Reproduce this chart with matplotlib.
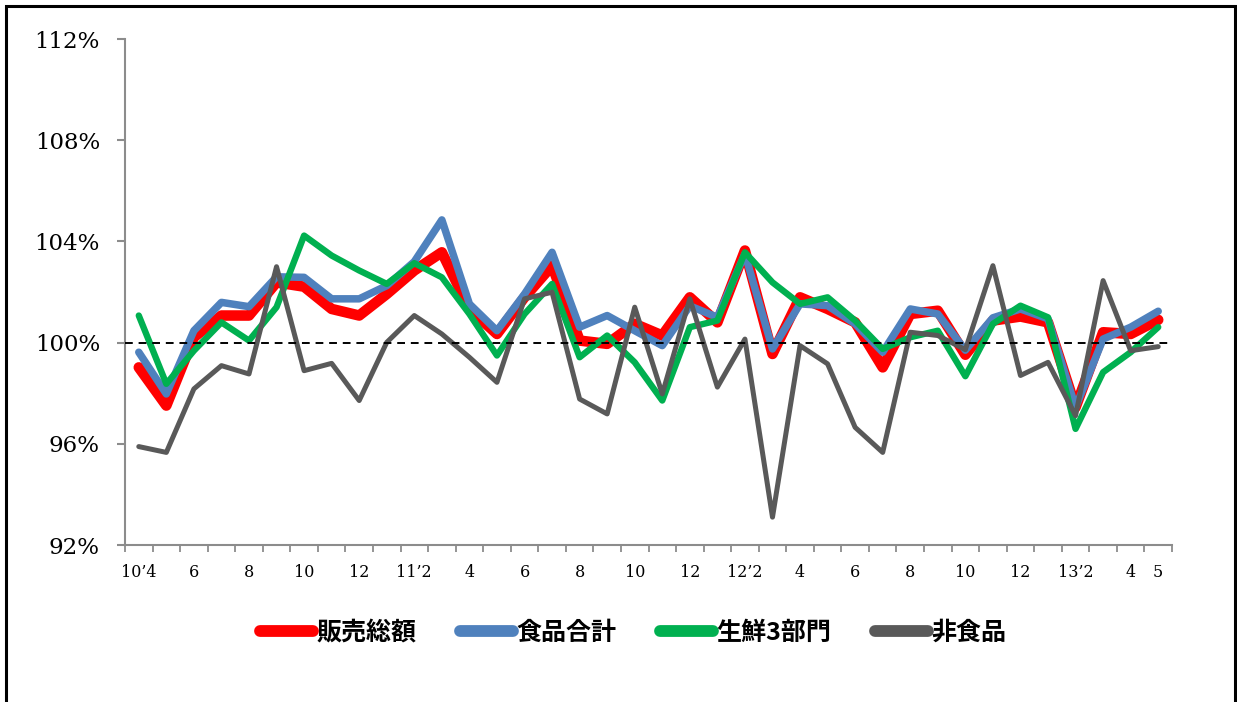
import matplotlib
matplotlib.use("Agg")
import matplotlib.pyplot as plt
from matplotlib.patches import Rectangle
from matplotlib.ticker import FixedLocator, FuncFormatter

# ---- data ----
tick_labels = ["10’4", "", "6", "", "8", "", "10", "", "12", "", "11’2", "", "4", "", "6", "", "8", "",
               "10", "", "12", "", "12’2", "", "4", "", "6", "", "8", "", "10", "", "12", "", "13’2", "",
               "4", "5"]
series_names = ["販売総額", "食品合計", "生鮮3部門", "非食品"]
sales_total = [99.02, 97.51, 100.21, 101.07, 101.07, 102.38, 102.21, 101.33, 101.07, 101.92, 102.85,
               103.57, 101.33, 100.34, 101.79, 103.04, 100.08, 99.95, 100.74, 100.28, 101.79, 100.80,
               103.64, 99.55, 101.79, 101.33, 100.80, 99.02, 101.13, 101.26, 99.52, 100.87, 101.03,
               100.80, 97.44, 100.41, 100.34, 100.90]
food_total = [99.62, 97.97, 100.47, 101.59, 101.42, 102.60, 102.58, 101.73, 101.73, 102.25, 103.20,
              104.85, 101.53, 100.47, 101.92, 103.57, 100.61, 101.07, 100.47, 99.88, 101.45, 101.00,
              103.51, 99.75, 101.53, 101.46, 100.74, 99.62, 101.33, 101.13, 99.70, 100.98, 101.33,
              100.94, 97.44, 100.14, 100.61, 101.24]
fresh3 = [101.07, 98.37, 99.68, 100.80, 100.08, 101.40, 104.23, 103.44, 102.85, 102.32, 103.14,
          102.58, 101.13, 99.49, 101.13, 102.32, 99.42, 100.28, 99.22, 97.71, 100.61, 100.87,
          103.57, 102.38, 101.53, 101.79, 100.87, 99.75, 100.21, 100.47, 98.67, 100.74, 101.46,
          101.00, 96.59, 98.83, 99.62, 100.61]
non_food = [95.89, 95.66, 98.17, 99.09, 98.76, 103.00, 98.89, 99.18, 97.71, 100.01, 101.07,
            100.34, 99.42, 98.43, 101.73, 101.99, 97.77, 97.18, 101.40, 97.97, 101.73, 98.24,
            100.14, 93.10, 99.88, 99.16, 96.65, 95.66, 100.41, 100.28, 99.72, 103.04, 98.70,
            99.22, 97.11, 102.45, 99.68, 99.84]
y_ticks = [92, 96, 100, 104, 108, 112]
baseline = 100

colors = ["#FF0000", "#4F81BD", "#00B050", "#595959"]
widths = [7.6, 5.4, 4.6, 3.6]

fig = plt.figure(figsize=(12.37, 7.02), dpi=100)
ax = fig.add_axes([125 / 1237, 1 - 545 / 702, 1047 / 1237, 506 / 702])

x = list(range(len(tick_labels)))
for vals, name, c, w in zip([sales_total, food_total, fresh3, non_food], series_names, colors, widths):
    ax.plot(x, vals, color=c, lw=w, label=name, solid_joinstyle="round", solid_capstyle="round", zorder=3)

ax.axhline(baseline, color="black", lw=1.4, ls=(0, (4, 3)), zorder=4)

ax.set_xlim(-0.5, len(tick_labels) - 0.5)
ax.set_ylim(y_ticks[0], y_ticks[-1])
ax.set_yticks(y_ticks)
ax.yaxis.set_major_formatter(FuncFormatter(lambda v, p: f"{int(v)}%"))

# ticks at category boundaries, labels at category centres
ax.xaxis.set_major_locator(FixedLocator([i - 0.5 for i in range(len(tick_labels) + 1)]))
ax.xaxis.set_major_formatter(FuncFormatter(lambda v, p: ""))
ax.xaxis.set_minor_locator(FixedLocator(x))
ax.set_xticklabels(tick_labels, minor=True)

axis_gray = "#8C8C8C"
for s in ["top", "right"]:
    ax.spines[s].set_visible(False)
for s in ["left", "bottom"]:
    ax.spines[s].set_color(axis_gray)
    ax.spines[s].set_linewidth(1.5)

ax.tick_params(axis="y", which="major", direction="out", length=6, width=1.5, color=axis_gray,
               pad=12, labelsize=16.5, labelfontfamily="DejaVu Serif")
ax.tick_params(axis="x", which="major", direction="out", length=5, width=1.3, color=axis_gray)
ax.tick_params(axis="x", which="minor", length=0, pad=14, labelsize=11.5, labelfontfamily="DejaVu Serif")

leg = fig.legend(loc="center", bbox_to_anchor=(0.512, 1 - 633 / 702), ncol=4, frameon=False,
                 handlelength=2.1, handletextpad=0.15, columnspacing=1.75,
                 prop={"family": ["Noto Sans CJK JP", "DejaVu Sans"], "weight": "bold", "size": 18})
for lh in leg.get_lines():
    lh.set_linewidth(8.5)
    lh.set_solid_capstyle("round")

fig.add_artist(Rectangle((5.5 / 1237, -0.1), (1235 - 5.5) / 1237, 1.1 - 6 / 702,
                         transform=fig.transFigure, fill=False, ec="black", lw=2.2, clip_on=False))

fig.savefig("out.png", dpi=100)
